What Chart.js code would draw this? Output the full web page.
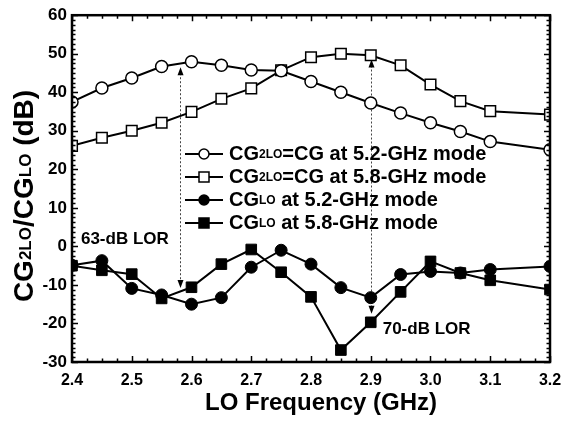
<!DOCTYPE html>
<html lang="en">
<head>
    <meta charset="UTF-8">
    <title>CG2LO / CGLO vs LO Frequency</title>
    <script src="https://cdn.jsdelivr.net/npm/chart.js"></script>
    <style>
        body { margin: 0; background: #fff; }
        canvas { display: block; }
    </style>
</head>
<body>
<canvas id="lorChart" width="571" height="422"></canvas>
<script>
    // LO frequency points (GHz) - no sample at 3.15
    const freqs = [2.4, 2.45, 2.5, 2.55, 2.6, 2.65, 2.7, 2.75, 2.8, 2.85, 2.9, 2.95, 3.0, 3.05, 3.1, 3.2];
    const cg2lo52 = [37.5, 41.1, 43.7, 46.7, 47.9, 47.0, 45.8, 45.6, 42.8, 40.0, 37.2, 34.6, 32.1, 29.8, 27.2, 25.1];
    const cg2lo58 = [26.1, 28.2, 30.0, 32.1, 34.9, 38.3, 41.0, 45.7, 49.1, 50.0, 49.6, 47.0, 42.0, 37.7, 35.1, 34.2];
    const cglo52 = [-4.9, -3.7, -10.9, -12.6, -15.0, -13.3, -5.4, -1.0, -4.6, -10.7, -13.3, -7.3, -6.5, -6.9, -6.0, -5.2];
    const cglo58 = [-5.0, -6.2, -7.2, -13.5, -10.6, -4.6, -0.8, -6.7, -13.1, -26.9, -19.7, -11.8, -3.9, -6.9, -8.8, -11.2];

    // LOR arrows: x position, bottom value, top value
    const arrowX = [2.58, 2.9];
    const arrowLow = [-10.8, -17.5];
    const arrowHigh = [46.5, 48.5];
    const lorLabels = ['63-dB LOR', '70-dB LOR'];
    const lorLabelPos = [[2.415, 1.8], [2.92, -21.5]];

    const FONT = '"Liberation Sans", Arial, sans-serif';

    function toPoints(ys) {
        return freqs.map((f, i) => ({ x: f, y: ys[i] }));
    }

    const legendItems = [
        { main: 'CG', sub: '2LO', rest: '=CG at 5.2-GHz mode', style: 'circle', fill: '#fff' },
        { main: 'CG', sub: '2LO', rest: '=CG at 5.8-GHz mode', style: 'rect', fill: '#fff' },
        { main: 'CG', sub: 'LO', rest: ' at 5.2-GHz mode', style: 'circle', fill: '#000' },
        { main: 'CG', sub: 'LO', rest: ' at 5.8-GHz mode', style: 'rect', fill: '#000' }
    ];

    function subText(ctx, parts, x, y, big, small) {
        // parts: [text, isSub]
        parts.forEach(p => {
            ctx.font = 'bold ' + (p[1] ? small : big) + 'px ' + FONT;
            ctx.fillText(p[0], x, y + (p[1] ? 1 : 0));
            x += ctx.measureText(p[0]).width;
        });
        return x;
    }

    function partsWidth(ctx, parts, big, small) {
        let w = 0;
        parts.forEach(p => {
            ctx.font = 'bold ' + (p[1] ? small : big) + 'px ' + FONT;
            w += ctx.measureText(p[0]).width;
        });
        return w;
    }

    const decorPlugin = {
        id: 'decor',
        beforeDatasetsDraw(chart) {
            const ctx = chart.ctx;
            const xs = chart.scales.x, ys = chart.scales.y;
            ctx.save();
            ctx.strokeStyle = '#444';
            ctx.fillStyle = '#000';
            ctx.lineWidth = 1;
            arrowX.forEach((ax, i) => {
                const px = Math.round(xs.getPixelForValue(ax)) + 0.5;
                const top = ys.getPixelForValue(arrowHigh[i]);
                const bot = ys.getPixelForValue(arrowLow[i]);
                ctx.setLineDash([2, 2]);
                ctx.beginPath();
                ctx.moveTo(px, top + 6);
                ctx.lineTo(px, bot - 6);
                ctx.stroke();
                ctx.setLineDash([]);
                // heads
                ctx.beginPath();
                ctx.moveTo(px, top);
                ctx.lineTo(px - 3, top + 8);
                ctx.lineTo(px + 3, top + 8);
                ctx.closePath();
                ctx.fill();
                ctx.beginPath();
                ctx.moveTo(px, bot);
                ctx.lineTo(px - 3, bot - 8);
                ctx.lineTo(px + 3, bot - 8);
                ctx.closePath();
                ctx.fill();
            });
            ctx.restore();
        },
        afterDraw(chart) {
            const ctx = chart.ctx;
            const a = chart.chartArea;
            const xs = chart.scales.x, ys = chart.scales.y;
            ctx.save();
            ctx.strokeStyle = '#000';
            ctx.fillStyle = '#000';

            // inward ticks
            ctx.lineWidth = 1.5;
            ctx.beginPath();
            for (let k = 0; k <= 32; k++) {
                const v = 2.4 + k * 0.025;
                const px = Math.round(xs.getPixelForValue(v)) + 0.5;
                const len = k % 4 === 0 ? 6 : 3.5;
                ctx.moveTo(px, a.bottom); ctx.lineTo(px, a.bottom - len);
                ctx.moveTo(px, a.top); ctx.lineTo(px, a.top + len);
            }
            for (let k = 0; k <= 72; k++) {
                const v = -30 + k * 1.25;
                const py = Math.round(ys.getPixelForValue(v)) + 0.5;
                const len = k % 8 === 0 ? 6 : 3.5;
                ctx.moveTo(a.left, py); ctx.lineTo(a.left + len, py);
                ctx.moveTo(a.right, py); ctx.lineTo(a.right - len, py);
            }
            ctx.stroke();

            // frame
            ctx.lineWidth = 2.5;
            ctx.strokeRect(a.left, a.top, a.right - a.left, a.bottom - a.top);

            // legend
            ctx.textBaseline = 'middle';
            ctx.textAlign = 'left';
            legendItems.forEach((it, i) => {
                const y = 154 + i * 23;
                ctx.lineWidth = 2;
                ctx.beginPath();
                ctx.moveTo(185, y); ctx.lineTo(223, y);
                ctx.stroke();
                ctx.fillStyle = it.fill;
                ctx.lineWidth = 1.5;
                ctx.beginPath();
                if (it.style === 'circle') {
                    ctx.arc(204, y, 5, 0, Math.PI * 2);
                } else {
                    ctx.rect(199, y - 5, 10, 10);
                }
                ctx.fill();
                ctx.stroke();
                ctx.fillStyle = '#000';
                subText(ctx, [[it.main, false], [it.sub, true], [it.rest, false]], 229, y, 20, 12);
            });

            // LOR labels
            ctx.font = 'bold 17px ' + FONT;
            lorLabels.forEach((t, i) => {
                const p = lorLabelPos[i];
                ctx.fillText(t, xs.getPixelForValue(p[0]), ys.getPixelForValue(p[1]));
            });

            // x title
            ctx.textAlign = 'center';
            ctx.font = 'bold 24px ' + FONT;
            ctx.fillText('LO Frequency (GHz)', 321, 403);

            // y title with subscripts
            const yParts = [['CG', false], ['2LO', true], ['/CG', false], ['LO', true], [' (dB)', false]];
            ctx.translate(25, 196);
            ctx.rotate(-Math.PI / 2);
            ctx.textAlign = 'left';
            const w = partsWidth(ctx, yParts, 28, 17);
            subText(ctx, yParts, -w / 2, 0, 28, 17);
            ctx.restore();
        }
    };

    const ctx = document.getElementById('lorChart').getContext('2d');
    const lorChart = new Chart(ctx, {
        type: 'line',
        data: {
            datasets: [
                {
                    label: 'CG2LO=CG at 5.2-GHz mode',
                    data: toPoints(cg2lo52),
                    borderColor: '#000',
                    backgroundColor: '#fff',
                    borderWidth: 2,
                    pointStyle: 'circle',
                    pointRadius: 6,
                    pointBorderWidth: 1.5
                },
                {
                    label: 'CG2LO=CG at 5.8-GHz mode',
                    data: toPoints(cg2lo58),
                    borderColor: '#000',
                    backgroundColor: '#fff',
                    borderWidth: 2,
                    pointStyle: 'rect',
                    pointRadius: 7.5,
                    pointBorderWidth: 1.5
                },
                {
                    label: 'CGLO at 5.2-GHz mode',
                    data: toPoints(cglo52),
                    borderColor: '#000',
                    backgroundColor: '#000',
                    borderWidth: 2,
                    pointStyle: 'circle',
                    pointRadius: 6,
                    pointBorderWidth: 1
                },
                {
                    label: 'CGLO at 5.8-GHz mode',
                    data: toPoints(cglo58),
                    borderColor: '#000',
                    backgroundColor: '#000',
                    borderWidth: 2,
                    pointStyle: 'rect',
                    pointRadius: 7.5,
                    pointBorderWidth: 1
                }
            ]
        },
        options: {
            responsive: false,
            animation: false,
            layout: { padding: { left: 0, right: 21, top: 10, bottom: 0 } },
            plugins: {
                legend: { display: false },
                tooltip: { enabled: false }
            },
            scales: {
                x: {
                    type: 'linear',
                    min: 2.4,
                    max: 3.2,
                    afterFit: s => { s.height = 60; },
                    grid: { display: false, drawTicks: false },
                    border: { display: false },
                    ticks: {
                        stepSize: 0.1,
                        padding: 9,
                        color: '#000',
                        font: { family: FONT, size: 16, weight: 'bold' },
                        callback: v => Number(v).toFixed(1)
                    }
                },
                y: {
                    min: -30,
                    max: 60,
                    afterFit: s => { s.width = 72; },
                    grid: { display: false, drawTicks: false },
                    border: { display: false },
                    ticks: {
                        stepSize: 10,
                        padding: 5,
                        color: '#000',
                        font: { family: FONT, size: 17, weight: 'bold' }
                    }
                }
            }
        },
        plugins: [decorPlugin]
    });
</script>
</body>
</html>
